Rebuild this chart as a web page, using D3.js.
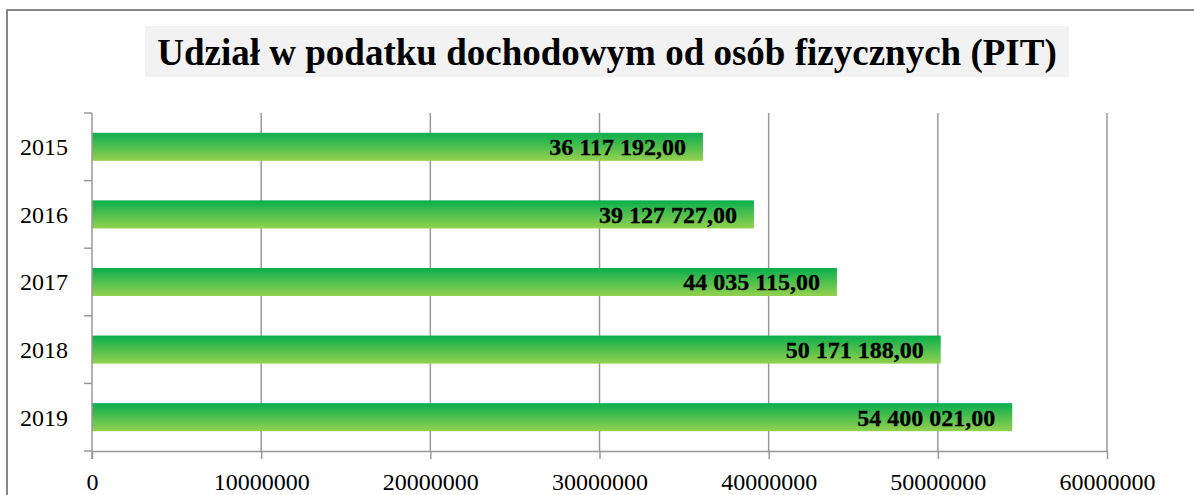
<!DOCTYPE html>
<html>
<head>
<meta charset="utf-8">
<script src="https://cdn.jsdelivr.net/npm/d3@7"></script>
<style>
  body { margin: 0; background: #fff; }
  svg { display: block; }
</style>
</head>
<body>
<svg width="1194" height="495"></svg>
<script>
// chart data
const years = ["2015", "2016", "2017", "2018", "2019"];
const values = [36117192.00, 39127727.00, 44035115.00, 50171188.00, 54400021.00];
const xTicks = [0, 10000000, 20000000, 30000000, 40000000, 50000000, 60000000];
const title = "Udział w podatku dochodowym od osób fizycznych (PIT)";

const svg = d3.select("svg");
const serif = "'Liberation Serif', 'Times New Roman', serif";

// chart area frame (right and bottom edges run off the page)
svg.append("rect")
    .attr("x", 7).attr("y", 10)
    .attr("width", 1200).attr("height", 500)
    .attr("fill", "#fff")
    .attr("stroke", "#878787")
    .attr("stroke-width", 2);

// gradient for the bars
const grad = svg.append("defs").append("linearGradient")
    .attr("id", "barGrad")
    .attr("x1", 0).attr("y1", 0).attr("x2", 0).attr("y2", 1);
grad.append("stop").attr("offset", "0%").attr("stop-color", "#0aae4e");
grad.append("stop").attr("offset", "100%").attr("stop-color", "#94d14f");

const plotL = 92, plotR = 1107, plotT = 113, plotB = 451;

const x = d3.scaleLinear().domain([0, 60000000]).range([plotL, plotR]);
const y = d3.scaleBand().domain(years).range([plotT, plotB]).paddingInner(0.585).paddingOuter(0.2925);

// title box
const titleG = svg.append("g");
titleG.append("rect")
    .attr("x", 145).attr("y", 26)
    .attr("width", 924).attr("height", 51)
    .attr("fill", "#f2f2f2");
titleG.append("text")
    .attr("x", 607).attr("y", 65)
    .attr("text-anchor", "middle")
    .attr("font-family", serif)
    .attr("font-weight", "bold")
    .attr("font-size", 37)
    .attr("fill", "#000")
    .text(title);

// vertical gridlines
svg.append("g")
    .selectAll("line")
    .data(xTicks.slice(1))
    .enter().append("line")
    .attr("x1", d => x(d)).attr("x2", d => x(d))
    .attr("y1", plotT).attr("y2", plotB)
    .attr("stroke", "#999")
    .attr("stroke-width", 1.5);

// bars
svg.append("g")
    .selectAll("rect")
    .data(values)
    .enter().append("rect")
    .attr("x", x(0))
    .attr("y", (d, i) => y(years[i]))
    .attr("width", d => x(d) - x(0))
    .attr("height", y.bandwidth())
    .attr("fill", "url(#barGrad)");

// value labels, inside end
const fmt = v => {
    const parts = v.toFixed(2).split(".");
    return parts[0].replace(/\B(?=(\d{3})+(?!\d))/g, " ") + "," + parts[1];
};
svg.append("g")
    .selectAll("text")
    .data(values)
    .enter().append("text")
    .attr("x", d => x(d) - 17)
    .attr("y", (d, i) => y(years[i]) + y.bandwidth() / 2)
    .attr("dy", "0.35em")
    .attr("text-anchor", "end")
    .attr("font-family", serif)
    .attr("font-weight", "bold")
    .attr("font-size", 24)
    .attr("fill", "#000")
    .attr("stroke", "#000")
    .attr("stroke-width", 0.3)
    .text(fmt);

// x axis
const xAxis = svg.append("g")
    .attr("transform", `translate(0,${plotB})`)
    .call(d3.axisBottom(x).tickValues(xTicks).tickFormat(d => d).tickSize(8).tickSizeOuter(0).tickPadding(14));
xAxis.select(".domain").attr("stroke", "#999").attr("stroke-width", 1.5);
xAxis.selectAll(".tick line").attr("stroke", "#999").attr("stroke-width", 1.5);
xAxis.selectAll(".tick text")
    .attr("font-family", serif)
    .attr("font-size", 24)
    .attr("fill", "#000");

// y axis, ticks between categories
const yAxis = svg.append("g")
    .attr("transform", `translate(${plotL},0)`);
yAxis.append("line")
    .attr("x1", 0).attr("x2", 0)
    .attr("y1", plotT).attr("y2", plotB + 8)
    .attr("stroke", "#999").attr("stroke-width", 1.5);
const step = (plotB - plotT) / years.length;
yAxis.selectAll("line.tk")
    .data(d3.range(years.length + 1))
    .enter().append("line")
    .attr("class", "tk")
    .attr("x1", -8).attr("x2", 0)
    .attr("y1", i => plotT + i * step).attr("y2", i => plotT + i * step)
    .attr("stroke", "#999").attr("stroke-width", 1.5);
yAxis.selectAll("text")
    .data(years)
    .enter().append("text")
    .attr("x", -24)
    .attr("y", d => y(d) + y.bandwidth() / 2)
    .attr("dy", "0.35em")
    .attr("text-anchor", "end")
    .attr("font-family", serif)
    .attr("font-size", 24)
    .attr("fill", "#000")
    .text(d => d);
</script>
</body>
</html>
